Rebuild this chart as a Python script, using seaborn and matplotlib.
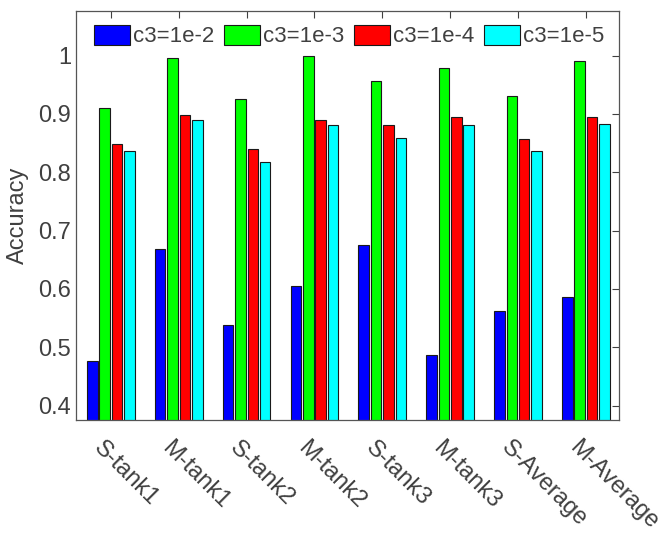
import pandas as pd
import matplotlib.pyplot as plt
import matplotlib.transforms as mtransforms
import seaborn as sns
from matplotlib.ticker import FuncFormatter

categories = ['S-tank1', 'M-tank1', 'S-tank2', 'M-tank2',
              'S-tank3', 'M-tank3', 'S-Average', 'M-Average']
series = ['c3=1e-2', 'c3=1e-3', 'c3=1e-4', 'c3=1e-5']

acc_1e2 = [0.476, 0.668, 0.538, 0.605, 0.676, 0.486, 0.563, 0.586]
acc_1e3 = [0.911, 0.996, 0.925, 1.000, 0.956, 0.979, 0.930, 0.991]
acc_1e4 = [0.849, 0.898, 0.840, 0.890, 0.881, 0.894, 0.857, 0.894]
acc_1e5 = [0.836, 0.890, 0.818, 0.881, 0.858, 0.881, 0.837, 0.883]

colors = ['#0000ff', '#00ff00', '#ff0000', '#00ffff']

rows = []
for name, vals in zip(series, [acc_1e2, acc_1e3, acc_1e4, acc_1e5]):
    for cat, v in zip(categories, vals):
        rows.append({'case': cat, 'setting': name, 'acc': v})
df = pd.DataFrame(rows)

sns.set_style('white')
plt.rcParams['font.family'] = ['Liberation Sans', 'DejaVu Sans']
txt = '#404040'

fig = plt.figure(figsize=(6.65, 5.35), dpi=100)
ax = fig.add_axes([0.1143, 0.215, 0.8167, 0.764])

sns.barplot(data=df, x='case', y='acc', hue='setting', palette=colors,
            width=0.73, gap=0.15, edgecolor='#1a1a1a', linewidth=0.8,
            saturation=1, ax=ax)

ax.set_ylim(0.3755, 1.076)
ax.set_xlim(-0.515, 7.49)
ax.set_yticks([0.4, 0.5, 0.6, 0.7, 0.8, 0.9, 1.0])
ax.yaxis.set_major_formatter(FuncFormatter(lambda v, p: f'{v:g}'))
ax.set_xlabel('')
ax.set_ylabel('Accuracy', fontsize=17, color=txt, labelpad=7)

ax.tick_params(direction='in', length=5, width=0.8, colors=txt,
               top=True, right=True, labelsize=17)
ax.tick_params(axis='x', pad=12)
# nudge the rotated labels so they start just left of each tick
shift = mtransforms.ScaledTranslation(-4 / 72, 0, fig.dpi_scale_trans)
for lab in ax.get_xticklabels():
    lab.set_rotation(-45)
    lab.set_ha('left')
    lab.set_rotation_mode('anchor')
    lab.set_transform(lab.get_transform() + shift)
for sp in ax.spines.values():
    sp.set_visible(True)
    sp.set_color('#555555')
    sp.set_linewidth(0.9)

ax.legend(loc='upper center', ncol=4, frameon=False, fontsize=16,
          handlelength=1.62, handleheight=1.05, handletextpad=0.15,
          columnspacing=0.42, borderaxespad=0.2, labelcolor=txt,
          bbox_to_anchor=(0.503, 1.0))

fig.savefig('out.png', dpi=100)
